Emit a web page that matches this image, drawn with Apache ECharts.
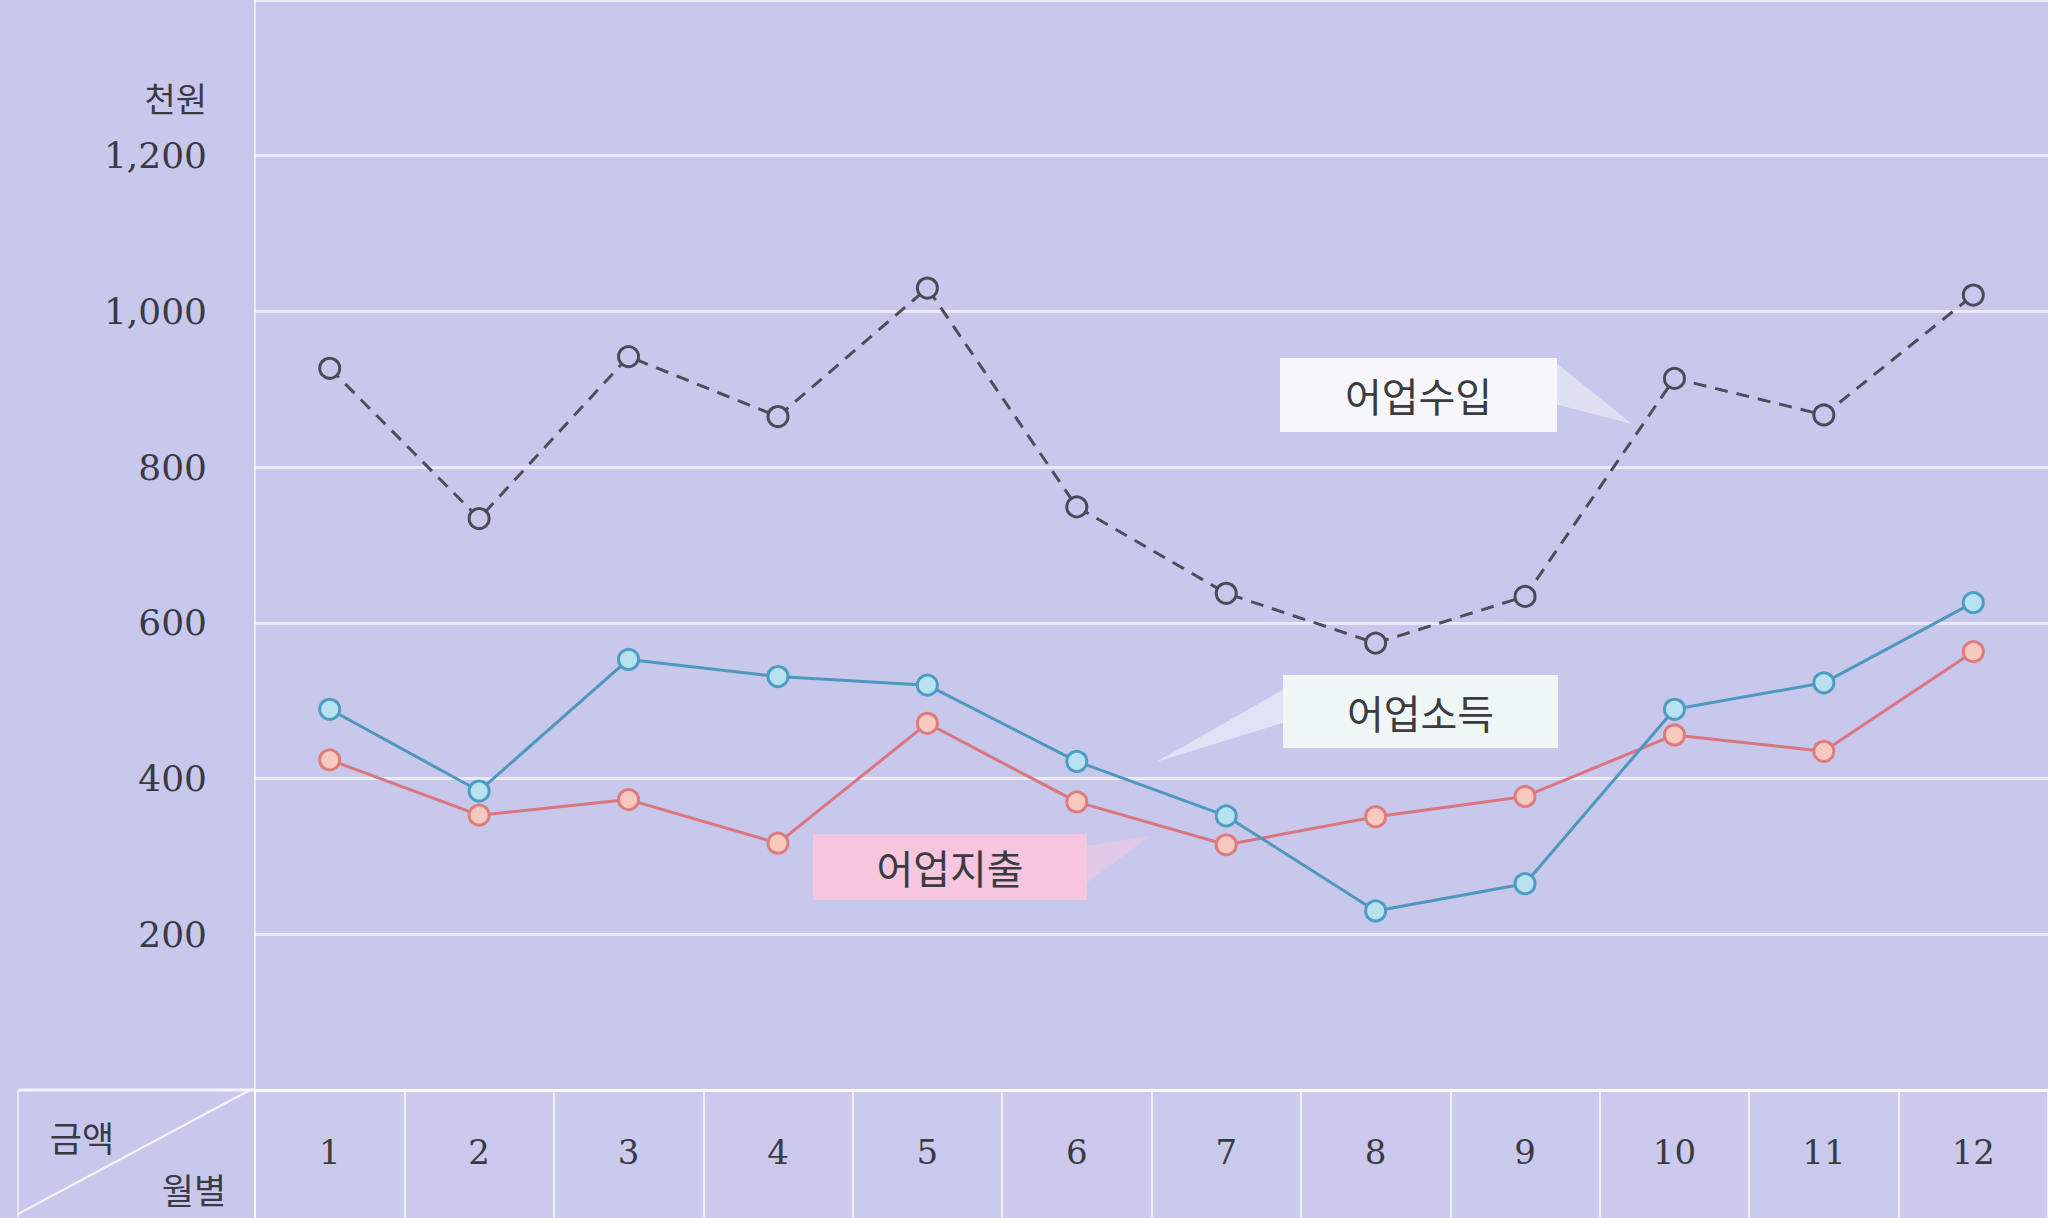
<!DOCTYPE html>
<html>
<head>
<meta charset="utf-8">
<title>월별 어업수입·소득·지출</title>
<script src="https://cdn.jsdelivr.net/npm/echarts@6/dist/echarts.min.js"></script>
<style>
  html, body { margin: 0; padding: 0; background: #c8c8ed; }
  #chart { width: 2048px; height: 1218px; }
</style>
</head>
<body>
<div id="chart"></div>
<script>
// 월별 구분 (1~12월)
const months = ['1', '2', '3', '4', '5', '6', '7', '8', '9', '10', '11', '12'];

// 금액 (단위: 천원)
const fishingRevenue = [927, 734, 942, 865, 1030, 749, 638, 574, 634, 914, 867, 1021]; // 어업수입
const fishingIncome  = [489, 384, 553, 531, 520, 422, 352, 230, 265, 489, 523, 626];   // 어업소득
const fishingExpense = [424, 353, 373, 317, 471, 370, 315, 351, 377, 456, 435, 563];   // 어업지출

// 세로축 눈금
const yTickLabels = [200, 400, 600, 800, 1000, 1200];
const yMin = 0;
const yMax = 1400;
const yStep = 200;

const seriesNames = ['어업수입', '어업소득', '어업지출'];
const unitLabel = '천원';
const cornerTop = '금액';
const cornerBottom = '월별';

const BG = '#c8c8ed';
const GRID_WHITE = 'rgba(255,255,255,0.6)';
const NUM_FONT = '"DejaVu Serif", "Liberation Serif", serif';
const KR_FONT = '"Noto Sans CJK KR", "Noto Sans", sans-serif';

const chart = echarts.init(document.getElementById('chart'), null, { renderer: 'svg' });

const plotLeft = 255;
const plotWidth = 1800;
const plotTop = -5;          // 맨 위 1,400 선은 화면 밖으로
const tableTop = 1090;
const plotHeight = tableTop - plotTop;

function callout(box, tip, fill, tipFill, label) {
  return [
    {
      type: 'polygon', z: 20,
      shape: { points: tip },
      style: { fill: tipFill }
    },
    {
      type: 'rect', z: 21,
      shape: { x: box[0], y: box[1], width: box[2], height: box[3] },
      style: { fill: fill }
    },
    {
      type: 'text', z: 22,
      x: box[0] + box[2] / 2, y: box[1] + box[3] / 2,
      style: {
        text: label, fill: '#3b3b40', font: '40px ' + KR_FONT,
        align: 'center', verticalAlign: 'middle'
      }
    }
  ];
}

const option = {
  backgroundColor: BG,
  animation: false,
  grid: [
    { left: plotLeft, top: plotTop, width: plotWidth, height: plotHeight },
    { left: plotLeft, top: tableTop, width: plotWidth, height: 1218 - tableTop }
  ],
  xAxis: [
    {
      gridIndex: 0, type: 'category', data: months, boundaryGap: true,
      axisLine: { show: true, lineStyle: { color: 'rgba(255,255,255,0.8)', width: 3 } },
      axisTick: { show: false },
      axisLabel: { show: false },
      splitLine: { show: false }
    },
    {
      gridIndex: 1, type: 'category', data: months, boundaryGap: true, position: 'top',
      axisLine: { show: false },
      axisTick: { show: false },
      axisLabel: {
        inside: true, margin: 62, verticalAlign: 'middle',
        color: '#3a3a44', fontFamily: NUM_FONT, fontSize: 34
      },
      splitLine: { show: true, lineStyle: { color: 'rgba(255,255,255,0.7)', width: 2 } },
      splitArea: { show: true, areaStyle: { color: ['rgba(255,255,255,0.05)', 'rgba(255,215,235,0.08)'] } }
    }
  ],
  yAxis: [
    {
      gridIndex: 0, type: 'value', min: yMin, max: yMax, interval: yStep,
      axisLine: { show: true, lineStyle: { color: 'rgba(255,255,255,0.65)', width: 2 } },
      axisTick: { show: false },
      axisLabel: {
        margin: 48, color: '#3a3a44', fontFamily: NUM_FONT, fontSize: 36,
        formatter: v => (yTickLabels.indexOf(v) >= 0 ? v.toLocaleString('en-US') : '')
      },
      splitLine: {
        show: true,
        lineStyle: { color: GRID_WHITE, width: 3 }
      }
    },
    {
      gridIndex: 1, type: 'value', min: 0, max: 1,
      axisLine: { show: true, lineStyle: { color: 'rgba(255,255,255,0.7)', width: 2 } },
      axisTick: { show: false },
      axisLabel: { show: false },
      splitLine: { show: false }
    }
  ],
  series: [
    {
      name: seriesNames[0], type: 'line', data: fishingRevenue,
      xAxisIndex: 0, yAxisIndex: 0, z: 5,
      symbol: 'circle', symbolSize: 20,
      lineStyle: { color: '#4d4d5c', width: 3, type: [13, 9] },
      itemStyle: { color: BG, borderColor: '#4a4a58', borderWidth: 3 }
    },
    {
      name: seriesNames[1], type: 'line', data: fishingIncome,
      xAxisIndex: 0, yAxisIndex: 0, z: 4,
      symbol: 'circle', symbolSize: 20,
      lineStyle: { color: '#4f97bd', width: 3 },
      itemStyle: { color: '#b9e2f0', borderColor: '#4d9cc2', borderWidth: 3 }
    },
    {
      name: seriesNames[2], type: 'line', data: fishingExpense,
      xAxisIndex: 0, yAxisIndex: 0, z: 3,
      symbol: 'circle', symbolSize: 20,
      lineStyle: { color: '#d9767e', width: 3 },
      itemStyle: { color: '#f8c9bf', borderColor: '#de7c7c', borderWidth: 3 }
    }
  ],
  graphic: {
    elements: [
      // 단위
      {
        type: 'text', x: 207, y: 97,
        style: { text: unitLabel, fill: '#3a3a44', font: '34px ' + KR_FONT, align: 'right', verticalAlign: 'middle' }
      },
      // 표 머리칸
      {
        type: 'line', shape: { x1: 18, y1: tableTop, x2: plotLeft, y2: tableTop },
        style: { stroke: 'rgba(255,255,255,0.8)', lineWidth: 3 }
      },
      {
        type: 'line', shape: { x1: 18, y1: tableTop, x2: 18, y2: 1218 },
        style: { stroke: 'rgba(255,255,255,0.55)', lineWidth: 2 }
      },
      {
        type: 'line', shape: { x1: 250, y1: tableTop, x2: 18, y2: 1214 },
        style: { stroke: 'rgba(255,255,255,0.8)', lineWidth: 2 }
      },
      {
        type: 'text', x: 82, y: 1136,
        style: { text: cornerTop, fill: '#3a3a44', font: '35px ' + KR_FONT, align: 'center', verticalAlign: 'middle' }
      },
      {
        type: 'text', x: 194, y: 1188,
        style: { text: cornerBottom, fill: '#3a3a44', font: '35px ' + KR_FONT, align: 'center', verticalAlign: 'middle' }
      },
      // 계열 이름표
      ...callout([1280, 358, 277, 74], [[1555, 362], [1632, 424], [1555, 404]],
        'rgba(250,250,252,0.95)', 'rgba(240,240,250,0.6)', seriesNames[0]),
      ...callout([1283, 675, 275, 73], [[1286, 688], [1156, 762], [1286, 722]],
        'rgba(240,250,246,0.95)', 'rgba(240,245,250,0.6)', seriesNames[1]),
      ...callout([813, 834, 274, 66], [[1085, 846], [1150, 836], [1085, 884]],
        'rgba(248,198,220,0.95)', 'rgba(245,200,225,0.55)', seriesNames[2])
    ]
  }
};

chart.setOption(option);
</script>
</body>
</html>
